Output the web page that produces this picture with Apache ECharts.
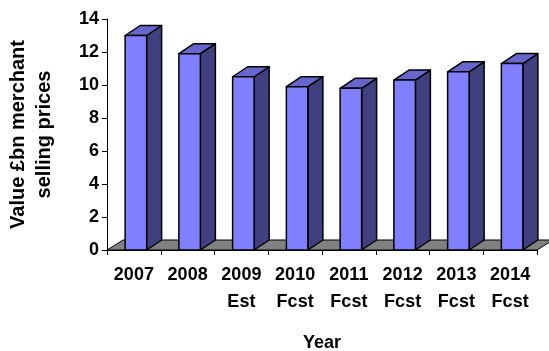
<!DOCTYPE html>
<html>
<head>
<meta charset="utf-8">
<script src="https://cdn.jsdelivr.net/npm/echarts@6/dist/echarts.min.js"></script>
<style>
  html, body { margin: 0; padding: 0; background: #fff; }
  #chart { width: 549px; height: 351px; }
</style>
</head>
<body>
<div id="chart"></div>
<script>
const years = ['2007', '2008', '2009', '2010', '2011', '2012', '2013', '2014'];
const suffixes = ['', '', 'Est', 'Fcst', 'Fcst', 'Fcst', 'Fcst', 'Fcst'];
const values = [13.0, 11.9, 10.5, 9.9, 9.8, 10.3, 10.8, 11.3];
const yTicks = [0, 2, 4, 6, 8, 10, 12, 14];

const DX = 15, DY = 10; // 3d depth
const FONT = '"Liberation Sans", Arial, sans-serif';

const myChart = echarts.init(document.getElementById('chart'));

function renderBar(params, api) {
    const x = api.value(0);
    const v = api.value(1);
    const base = api.coord([x, 0]);
    const top = api.coord([x, v]);
    const w = api.size([1, 0])[0] * 0.4;
    const xl = base[0] - w / 2 + 2;
    const xr = xl + w;
    const yb = base[1];
    const yt = top[1];
    const line = { stroke: '#000', lineWidth: 1.5, lineJoin: 'round' };
    return {
        type: 'group',
        children: [
            {
                type: 'polygon',
                shape: { points: [[xr, yt], [xr + DX, yt - DY], [xr + DX, yb - DY], [xr, yb]] },
                style: Object.assign({ fill: '#404080' }, line)
            },
            {
                type: 'polygon',
                shape: { points: [[xl, yt], [xl + DX, yt - DY], [xr + DX, yt - DY], [xr, yt]] },
                style: Object.assign({ fill: '#6666cc' }, line)
            },
            {
                type: 'rect',
                shape: { x: xl, y: yt, width: w, height: yb - yt },
                style: Object.assign({ fill: '#8080ff' }, line)
            }
        ]
    };
}

function renderFloor(params, api) {
    const band = api.size([1, 0])[0];
    const first = api.coord([0, 0]);
    const last = api.coord([years.length - 1, 0]);
    const x0 = first[0] - band / 2;
    const x1 = last[0] + band / 2;
    const y0 = first[1];
    return {
        type: 'polygon',
        shape: { points: [[x0, y0], [x0 + DX + 1, y0 - DY], [x1 + DX + 1, y0 - DY], [x1, y0]] },
        style: { fill: '#808080', stroke: '#000', lineWidth: 1 }
    };
}

const option = {
    animation: false,
    grid: {
        left: 107,
        right: 12,
        top: 19,
        bottom: 101,
        outerBoundsMode: 'none'
    },
    xAxis: {
        type: 'category',
        data: years,
        name: 'Year',
        nameLocation: 'middle',
        nameGap: 84,
        nameTextStyle: { color: '#000', fontSize: 18, fontWeight: 'bold', fontFamily: FONT },
        axisLine: { lineStyle: { color: '#000', width: 1 } },
        axisTick: { show: true, length: 5, lineStyle: { color: '#000' } },
        axisLabel: {
            color: '#000',
            fontSize: 18,
            fontWeight: 'bold',
            fontFamily: FONT,
            lineHeight: 27,
            margin: 12,
            interval: 0,
            formatter: (val, i) => val + '\n' + suffixes[i]
        }
    },
    yAxis: {
        type: 'value',
        min: yTicks[0],
        max: yTicks[yTicks.length - 1],
        interval: 2,
        name: 'Value £bn merchant\nselling prices',
        nameLocation: 'middle',
        nameRotate: 90,
        nameGap: 50,
        nameTextStyle: { color: '#000', fontSize: 20, fontWeight: 'bold', fontFamily: FONT, lineHeight: 26 },
        axisLine: { show: true, lineStyle: { color: '#000', width: 1 } },
        axisTick: { show: true, length: 5, lineStyle: { color: '#000' } },
        splitLine: { show: false },
        axisLabel: { color: '#000', fontSize: 18, fontWeight: 'bold', fontFamily: FONT, margin: 8 }
    },
    series: [
        {
            type: 'custom',
            clip: false,
            renderItem: renderFloor,
            data: [[0, 0]],
            z: 1
        },
        {
            type: 'custom',
            clip: false,
            renderItem: renderBar,
            data: values.map((v, i) => [i, v]),
            z: 2
        }
    ]
};

myChart.setOption(option);
</script>
</body>
</html>
